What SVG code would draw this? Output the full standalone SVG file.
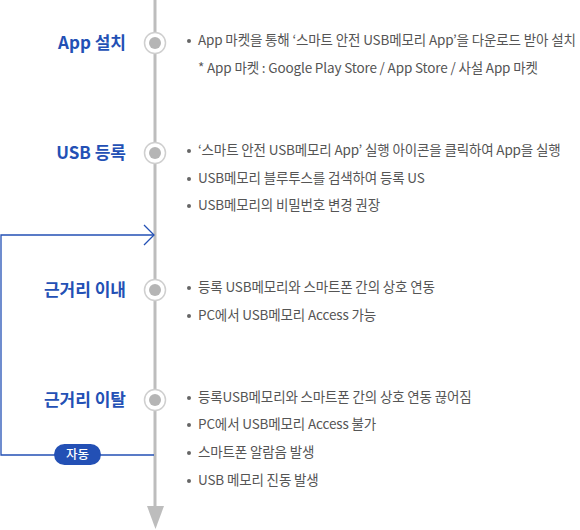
<svg xmlns="http://www.w3.org/2000/svg" width="580" height="530" viewBox="0 0 580 530">
<style>
.lbl{font-family:"Noto Sans CJK KR","Noto Sans",sans-serif;font-size:17px;font-weight:700;fill:#2350b5;text-anchor:end;letter-spacing:0px}
.txt{font-family:"Noto Sans CJK KR","Noto Sans",sans-serif;font-size:13.5px;fill:#555;letter-spacing:-0.15px}
.ring{fill:#fff;stroke:#cfcfcf;stroke-width:1.5}
.dot{fill:#b5b5b5}
.bul{fill:#666}
.flow{fill:none;stroke:#2350b5;stroke-width:1.3}
.pill{fill:#2350b5}
.pilltxt{font-family:"Noto Sans CJK KR","Noto Sans",sans-serif;font-size:12.5px;font-weight:500;fill:#fff;text-anchor:middle}
</style>
<g id="connectors">
<line x1="155" y1="0" x2="155" y2="508" stroke="#bdbdbd" stroke-width="3"/>
<polygon points="147,506 164,506 155.5,529" fill="#bdbdbd"/>
<polyline class="flow" points="154,455 1,455 1,235 154,235"/>
<polyline class="flow" points="144,225 154,235 144,245"/>
<rect class="pill" x="54" y="444" width="47" height="21" rx="10.5"/>
<text class="pilltxt" x="77.5" y="459">자동</text>
</g>
<g id="node-install">
<text class="lbl" x="126" y="49">App 설치</text>
<circle class="ring" cx="155" cy="43" r="10.5"/>
<circle class="dot" cx="155" cy="43" r="6"/>
<circle class="bul" cx="189" cy="41" r="2"/>
<text class="txt" x="198" y="45">App 마켓을 통해 ‘스마트 안전 USB메모리 App’을 다운로드 받아 설치</text>
<text class="txt" x="198" y="73">* App 마켓 : Google Play Store / App Store / 사설 App 마켓</text>
</g>
<g id="node-register">
<text class="lbl" x="126" y="159">USB 등록</text>
<circle class="ring" cx="155" cy="153" r="10.5"/>
<circle class="dot" cx="155" cy="153" r="6"/>
<circle class="bul" cx="189" cy="151" r="2"/>
<text class="txt" x="198" y="155">‘스마트 안전 USB메모리 App’ 실행 아이콘을 클릭하여 App을 실행</text>
<circle class="bul" cx="189" cy="179" r="2"/>
<text class="txt" x="198" y="183">USB메모리 블루투스를 검색하여 등록 US</text>
<circle class="bul" cx="189" cy="206" r="2"/>
<text class="txt" x="198" y="210">USB메모리의 비밀번호 변경 권장</text>
</g>
<g id="node-near">
<text class="lbl" x="126" y="296">근거리 이내</text>
<circle class="ring" cx="155" cy="290" r="10.5"/>
<circle class="dot" cx="155" cy="290" r="6"/>
<circle class="bul" cx="189" cy="288" r="2"/>
<text class="txt" x="198" y="292">등록 USB메모리와 스마트폰 간의 상호 연동</text>
<circle class="bul" cx="189" cy="316" r="2"/>
<text class="txt" x="198" y="320">PC에서 USB메모리 Access 가능</text>
</g>
<g id="node-away">
<text class="lbl" x="126" y="406">근거리 이탈</text>
<circle class="ring" cx="155" cy="400" r="10.5"/>
<circle class="dot" cx="155" cy="400" r="6"/>
<circle class="bul" cx="189" cy="398" r="2"/>
<text class="txt" x="198" y="402">등록USB메모리와 스마트폰 간의 상호 연동 끊어짐</text>
<circle class="bul" cx="189" cy="425" r="2"/>
<text class="txt" x="198" y="429">PC에서 USB메모리 Access 불가</text>
<circle class="bul" cx="189" cy="453" r="2"/>
<text class="txt" x="198" y="457">스마트폰 알람음 발생</text>
<circle class="bul" cx="189" cy="481" r="2"/>
<text class="txt" x="198" y="485">USB 메모리 진동 발생</text>
</g>
</svg>
